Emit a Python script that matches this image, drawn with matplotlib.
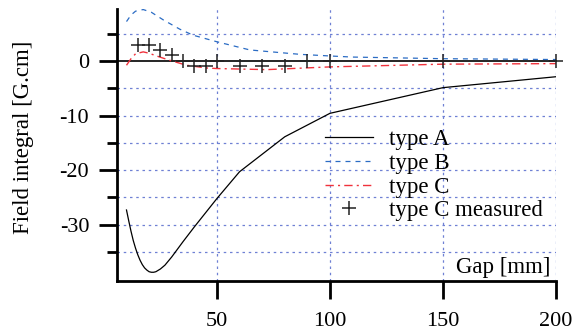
import matplotlib.pyplot as plt
import numpy as np

plt.rcParams['font.family'] = ['Liberation Serif', 'DejaVu Serif']
plt.rcParams['axes.unicode_minus'] = False

# type A (computed)
gap_a = [10, 11, 12, 13, 14, 15, 16, 17, 18, 19, 20, 21, 22, 23, 25, 27, 30, 35, 40, 45,
         50, 60, 80, 100, 150, 200]
field_a = [-27.3, -29.3, -31.2, -32.9, -34.3, -35.5, -36.5, -37.3, -37.9, -38.3, -38.6, -38.7,
           -38.7, -38.6, -38.1, -37.4, -35.9, -33.1, -30.4, -27.8, -25.2, -20.3, -13.9, -9.6,
           -4.9, -2.9]

# type B (computed)
gap_b = [10, 12, 14, 17.4, 21, 26.3, 33.6, 39.5, 50, 64.6, 86.7, 100, 110, 150, 200]
field_b = [7.2, 8.4, 9.1, 9.4, 8.9, 7.5, 5.8, 4.7, 3.5, 2.0, 1.2, 0.9, 0.7, 0.4, 0.25]

# type C (computed)
gap_c = [10, 12, 14, 17.4, 20, 23.3, 29.2, 36.6, 45.4, 50, 72, 100, 110, 150, 200]
field_c = [-0.8, 0.4, 1.3, 1.65, 1.4, 0.9, 0.1, -0.8, -1.3, -1.4, -1.6, -1.1, -1.0, -0.6, -0.5]

# type C measured
gap_m = [15, 20, 25, 30, 35, 40, 45, 50, 60, 70, 80, 90, 100, 150, 200]
field_m = [3, 3, 2, 1, 0, -1, -1, 0, -1, -1, -1, 0, 0, 0, 0]

W, H = 574, 331
fig = plt.figure(figsize=(W / 100, H / 100), dpi=100)
ax = fig.add_axes([117 / W, 1 - 281 / H, (556 - 117) / W, (281 - 9) / H])

grid_kw = dict(color='#6f80d4', lw=0.9, ls=(0, (2, 3)))
for yv in [5, -5, -10, -15, -20, -25, -30, -35]:
    ax.axhline(yv, zorder=0, **grid_kw)
for xv in [50, 100, 150, 200]:
    ax.axvline(xv, zorder=0, **grid_kw)
ax.axhline(0, color='black', lw=1.2, zorder=1)

ax.plot(gap_a, field_a, color='black', lw=0.9, label='type A')
ax.plot(gap_b, field_b, color='#2b6cc4', lw=0.9, ls=(0, (4, 4)), label='type B')
ax.plot(gap_c, field_c, color='#f0323c', lw=1.0, ls=(0, (6, 3, 1.5, 3)), label='type C')
ax.plot(gap_m, field_m, ls='none', marker='+', ms=10, mew=1.1, color='#222222',
        label='type C measured', clip_on=False)

ax.set_xlim(5.8, 200)
ax.set_ylim(-40.3, 9.5)
ax.set_xticks([50, 100, 150, 200])
ax.set_yticks([0, -10, -20, -30])
ax.set_yticks([5, -5, -15, -25, -35], minor=True)
ax.tick_params(axis='both', direction='out', width=2, length=13, labelsize=16)
ax.tick_params(axis='x', pad=9)
ax.tick_params(axis='y', pad=7)
ax.tick_params(axis='y', which='minor', width=2, length=7)

for s in ['top', 'right']:
    ax.spines[s].set_visible(False)
for s in ['left', 'bottom']:
    ax.spines[s].set_linewidth(2)

ax.set_ylabel('Field integral [G.cm]', fontsize=16.5)
ax.yaxis.set_label_coords(-0.19, 0.53)
ax.text(0.988, 0.028, 'Gap [mm]', transform=ax.transAxes, ha='right', va='baseline', fontsize=16.5)

ax.legend(loc='upper left', bbox_to_anchor=(325 / W, 1 - 129 / H), bbox_transform=fig.transFigure,
          frameon=False, fontsize=16.5, handlelength=2.1, handletextpad=0.7,
          labelspacing=0.12, borderpad=0, borderaxespad=0)

fig.savefig('out.png', dpi=100)
